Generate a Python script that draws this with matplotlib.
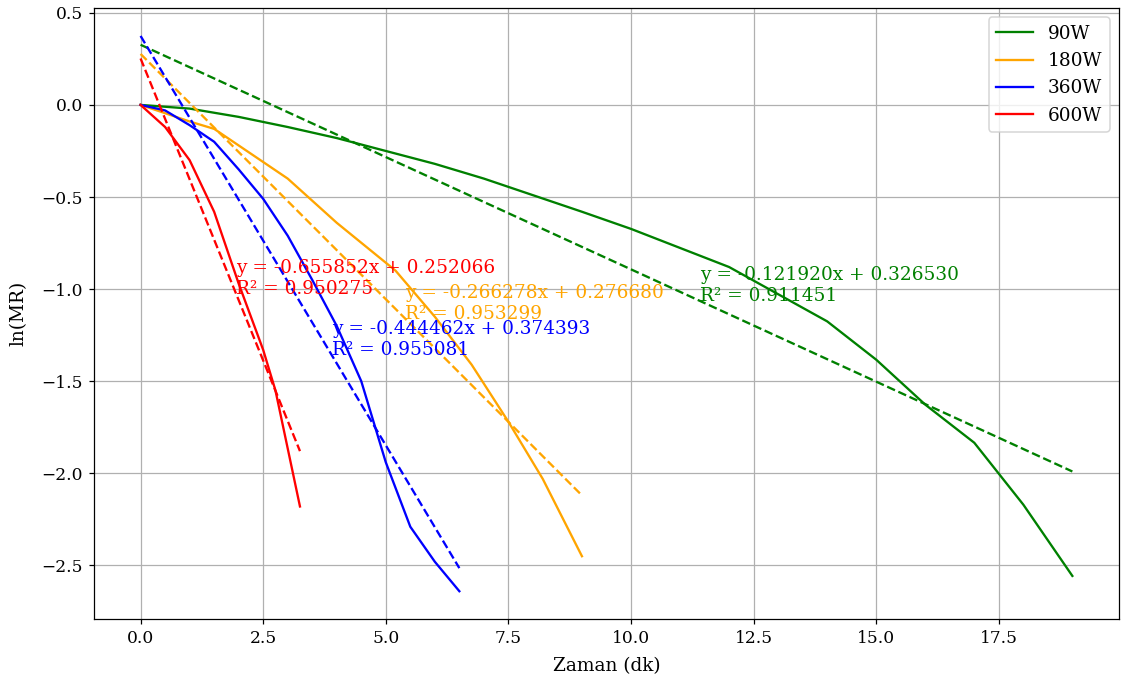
import matplotlib
matplotlib.use('Agg')
import matplotlib.pyplot as plt
import numpy as np

plt.rcParams['font.family'] = 'serif'
plt.rcParams['font.serif'] = ['DejaVu Serif']

# ln(MR) kuruma verileri, guc seviyesine gore
t_90 = [0, 1, 2, 3, 4, 5, 6, 7, 8, 9, 10, 12, 14, 15, 16, 17, 18, 19]
ln_90 = [0.0, -0.02, -0.065, -0.12, -0.18, -0.25, -0.32, -0.40, -0.49, -0.58,
         -0.673, -0.88, -1.175, -1.383, -1.627, -1.834, -2.17, -2.557]

t_180 = [0, 1, 1.5, 3, 4, 5.2, 6, 6.75, 7.5, 8.2, 9]
ln_180 = [0.0, -0.09, -0.13, -0.40, -0.64, -0.90, -1.15, -1.41, -1.72, -2.03, -2.45]

t_360 = [0, 0.5, 1, 1.5, 2, 2.5, 3, 3.5, 4, 4.5, 5, 5.5, 6, 6.5]
ln_360 = [0.0, -0.03, -0.11, -0.20, -0.35, -0.51, -0.71, -0.95, -1.20, -1.50,
          -1.94, -2.29, -2.48, -2.64]

t_600 = [0, 0.5, 1, 1.5, 2, 2.5, 2.75, 3.25]
ln_600 = [0.0, -0.12, -0.30, -0.58, -0.97, -1.33, -1.55, -2.18]

# dogrusal regresyon sonuclari (egim, kesisim, R2)
labels = ['90W', '180W', '360W', '600W']
colors = ['green', 'orange', 'blue', 'red']
slopes = [-0.121920, -0.266278, -0.444462, -0.655852]
intercepts = [0.326530, 0.276680, 0.374393, 0.252066]
r2_values = [0.911451, 0.953299, 0.955081, 0.950275]

times = [t_90, t_180, t_360, t_600]
lnmr = [ln_90, ln_180, ln_360, ln_600]

dpi = 111
fig = plt.figure(figsize=(1123 / dpi, 682 / dpi), dpi=dpi)
ax = fig.add_axes([0.0837, 0.0924, 0.9127, 0.8956])

for t, y, lab, c in zip(times, lnmr, labels, colors):
    ax.plot(t, y, color=c, label=lab)

for t, c, m, b, r2 in zip(times, colors, slopes, intercepts, r2_values):
    x = np.array([0, max(t)])
    ax.plot(x, m * x + b, '--', color=c)
    xt = 0.6 * max(t)
    ax.text(xt, m * xt + b, f'y = {m:.6f}x + {b:.6f}\nR² = {r2:.6f}',
            color=c, fontsize=12)

ax.tick_params(labelsize=11)
ax.set_xlabel('Zaman (dk)', fontsize=12, labelpad=7)
ax.set_ylabel('ln(MR)', fontsize=12, labelpad=9)
ax.legend(loc='upper right', fontsize=12)
ax.grid(True)

fig.savefig('out.png', dpi=dpi)
